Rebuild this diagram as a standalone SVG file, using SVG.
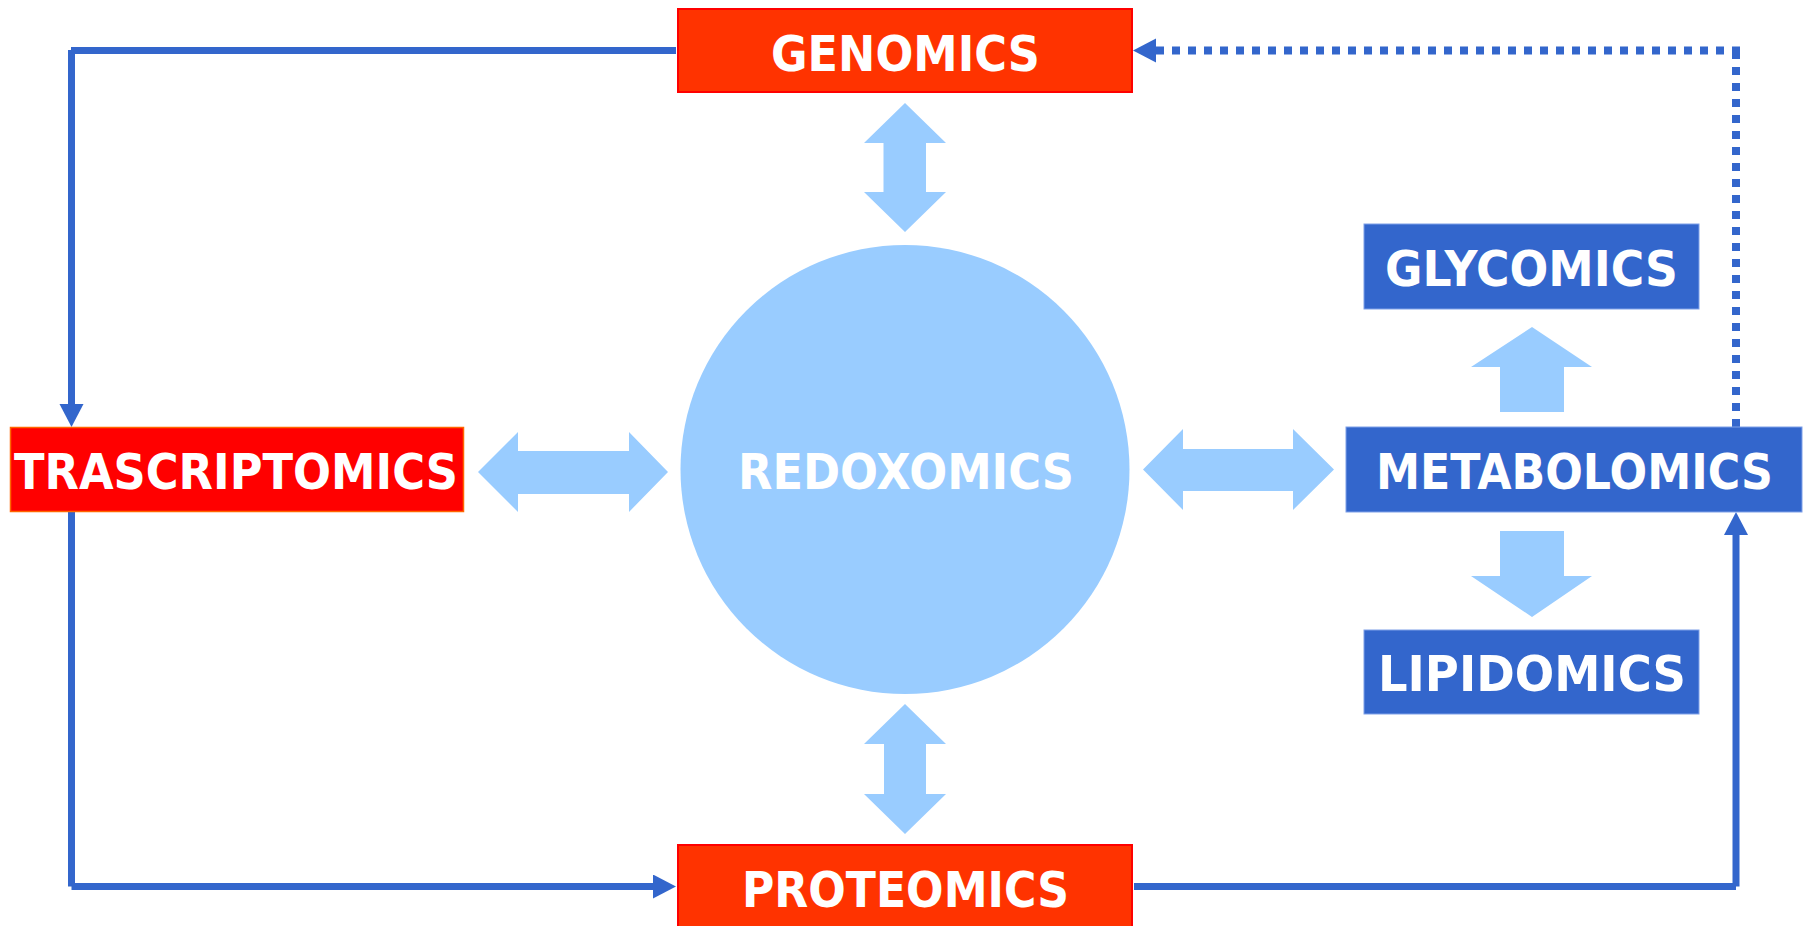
<svg xmlns="http://www.w3.org/2000/svg" width="1806" height="926" viewBox="0 0 1806 926">
<style>
.lbl{font-family:"DejaVu Sans","Verdana",sans-serif;font-weight:bold;font-size:50px;fill:#FFFFFF;text-anchor:middle}
.red{fill:#FF3300;stroke:#FF0000;stroke-width:2}
.blue{fill:#3366CC;stroke:#7FA0E8;stroke-width:1}
.lb{fill:#99CCFF}
.conn{stroke:#3366CC;stroke-width:7;fill:none}
.dot{stroke:#3366CC;stroke-width:8;fill:none;stroke-dasharray:8 8}
</style>
<defs>
<marker id="ah" markerUnits="userSpaceOnUse" markerWidth="24" markerHeight="26" refX="0" refY="12" orient="auto">
<path d="M0,0 L23,12 L0,24 Z" fill="#3366CC"/>
</marker>
</defs>
<rect width="1806" height="926" fill="#FFFFFF"/>

<g id="connectors">
<line class="conn" x1="71" y1="50.5" x2="676" y2="50.5"/>
<line class="conn" x1="71.5" y1="50" x2="71.5" y2="404" marker-end="url(#ah)"/>
<line class="conn" x1="71.5" y1="512" x2="71.5" y2="886.5"/>
<line class="conn" x1="71.5" y1="886.5" x2="653" y2="886.5" marker-end="url(#ah)"/>
<line class="conn" x1="1134" y1="886.5" x2="1736" y2="886.5"/>
<line class="conn" x1="1736" y1="886.5" x2="1736" y2="535" marker-end="url(#ah)"/>
<line class="dot" x1="1736" y1="427" x2="1736" y2="50.5"/>
<line class="dot" x1="1740" y1="50.5" x2="1156" y2="50.5" marker-end="url(#ah)"/>
</g>

<g id="arrows-light">
<polygon class="lb" points="905,103 946,143 926,143 926,192 946,192 905,232 864,192 883.5,192 883.5,143 864,143"/>
<polygon class="lb" points="905,704 946,744 926,744 926,794 946,794 905,834 864,794 884,794 884,744 864,744"/>
<polygon class="lb" points="478,472 518,432 518,451 629,451 629,432 668,472 629,512 629,494 518,494 518,512"/>
<polygon class="lb" points="1143,469.5 1183,429 1183,449 1293,449 1293,429 1334,469.5 1293,510 1293,491 1183,491 1183,510"/>
<polygon class="lb" points="1532,327 1592,367 1564,367 1564,412 1500,412 1500,367 1471,367"/>
<polygon class="lb" points="1500,531 1564,531 1564,576 1592,576 1532,617 1471,576 1500,576"/>
</g>

<g id="genomics">
<rect class="red" x="678" y="9" width="454" height="83"/>
<text class="lbl" x="905.5" y="71" textLength="269" lengthAdjust="spacingAndGlyphs">GENOMICS</text>
</g>

<g id="proteomics">
<rect class="red" x="678" y="845" width="454" height="83"/>
<text class="lbl" x="905.5" y="907" textLength="327" lengthAdjust="spacingAndGlyphs">PROTEOMICS</text>
</g>

<g id="trascriptomics">
<rect x="10.5" y="427.5" width="453" height="84" fill="#FF0000" stroke="#FF6600" stroke-width="1.5"/>
<text class="lbl" x="236" y="489" textLength="444" lengthAdjust="spacingAndGlyphs">TRASCRIPTOMICS</text>
</g>

<g id="redoxomics">
<circle class="lb" cx="905" cy="469.5" r="224.5"/>
<text class="lbl" x="906" y="489" textLength="336" lengthAdjust="spacingAndGlyphs">REDOXOMICS</text>
</g>

<g id="metabolomics">
<rect class="blue" x="1346" y="427" width="456" height="85"/>
<text class="lbl" x="1574.5" y="489" font-size="48" textLength="397" lengthAdjust="spacingAndGlyphs">METABOLOMICS</text>
</g>

<g id="glycomics">
<rect class="blue" x="1364" y="224" width="335" height="85"/>
<text class="lbl" x="1531.5" y="286" textLength="293" lengthAdjust="spacingAndGlyphs">GLYCOMICS</text>
</g>

<g id="lipidomics">
<rect class="blue" x="1364" y="630" width="335" height="84"/>
<text class="lbl" x="1532" y="691" textLength="308" lengthAdjust="spacingAndGlyphs">LIPIDOMICS</text>
</g>
</svg>
